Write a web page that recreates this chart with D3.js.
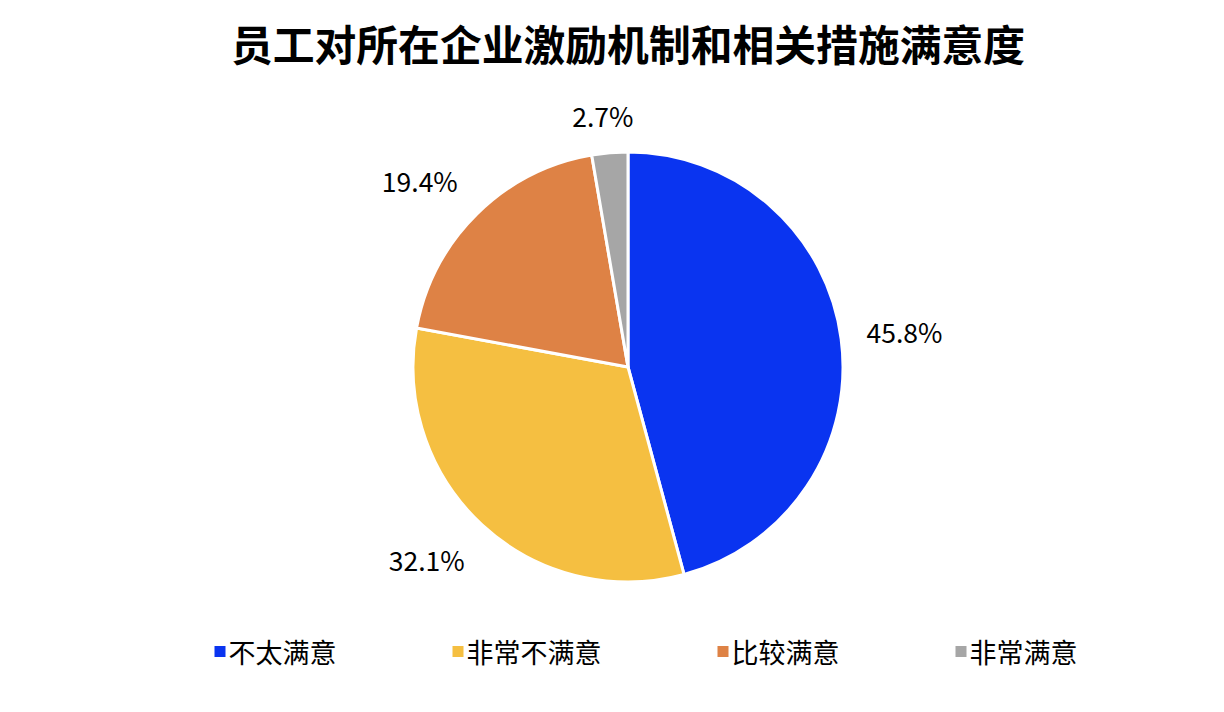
<!DOCTYPE html>
<html>
<head>
<meta charset="utf-8">
<script src="https://cdn.jsdelivr.net/npm/d3@7"></script>
<style>
  body { margin: 0; background: #fff; }
  text { font-family: "Noto Sans CJK SC", "Noto Sans", sans-serif; }
</style>
</head>
<body>
<div class="container"></div>
<script>
var categories = ['不太满意', '非常不满意', '比较满意', '非常满意'];
var values = [45.8, 32.1, 19.4, 2.7];
var labels = ['45.8%', '32.1%', '19.4%', '2.7%'];
var colors = ['#0a34f0', '#f5bf41', '#de8245', '#a6a6a6'];
var title = '员工对所在企业激励机制和相关措施满意度';

var W = 1224, H = 712;
var cx = 628, cy = 367, r = 215;

var svg = d3.select('.container').append('svg')
	.attr('width', W)
	.attr('height', H);

svg.append('text')
	.attr('x', cx)
	.attr('y', 61)
	.attr('text-anchor', 'middle')
	.style('font-size', '41.8px')
	.style('font-weight', 'bold')
	.style('fill', '#000')
	.text(title);

var data = categories.map(function(c, i) {
	return {name: c, value: values[i], label: labels[i], color: colors[i]};
});

var pie = d3.pie().sort(null).value(function(d) { return d.value; });
var arc = d3.arc().innerRadius(0).outerRadius(r);
var arcs = pie(data);

var g = svg.append('g').attr('transform', 'translate(' + cx + ',' + cy + ')');

g.selectAll('path').data(arcs).enter().append('path')
	.attr('d', arc)
	.style('fill', function(d) { return d.data.color; })
	.style('stroke', '#fff')
	.style('stroke-width', 3)
	.style('stroke-linejoin', 'round');

// labels outside the pie; diagonal ones get pushed a bit further
var R = 237;
var lab = g.selectAll('text.lab').data(arcs).enter().append('text')
	.attr('class', 'lab')
	.attr('text-anchor', 'middle')
	.attr('dominant-baseline', 'central')
	.style('font-size', '26.5px')
	.style('fill', '#000')
	.text(function(d) { return d.data.label; });

lab.each(function(d) {
	var bb = this.getBBox();
	var a = (d.startAngle + d.endAngle) / 2;
	var s = Math.sin(a), c = Math.cos(a);
	d3.select(this)
		.attr('x', s * (R + bb.width / 2) + s * Math.abs(c) * 30)
		.attr('y', -c * (R + 14) - c * Math.abs(s) * 16);
});

// legend
var legend = svg.append('g');
var items = legend.selectAll('g').data(data).enter().append('g');
items.append('rect')
	.attr('width', 11).attr('height', 11)
	.attr('y', -5)
	.style('fill', function(d) { return d.color; });
items.append('text')
	.attr('x', 14)
	.attr('dominant-baseline', 'central')
	.style('font-size', '27px')
	.style('fill', '#000')
	.text(function(d) { return d.name; });

var gap = 116, xpos = 0, widths = [];
items.each(function() { widths.push(this.getBBox().width); });
items.attr('transform', function(d, i) {
	var x = xpos;
	xpos += widths[i] + (i < widths.length - 1 ? gap : 0);
	return 'translate(' + x + ',0)';
});
legend.attr('transform', 'translate(' + (cx + 18 - xpos / 2) + ',651)');
</script>
</body>
</html>
